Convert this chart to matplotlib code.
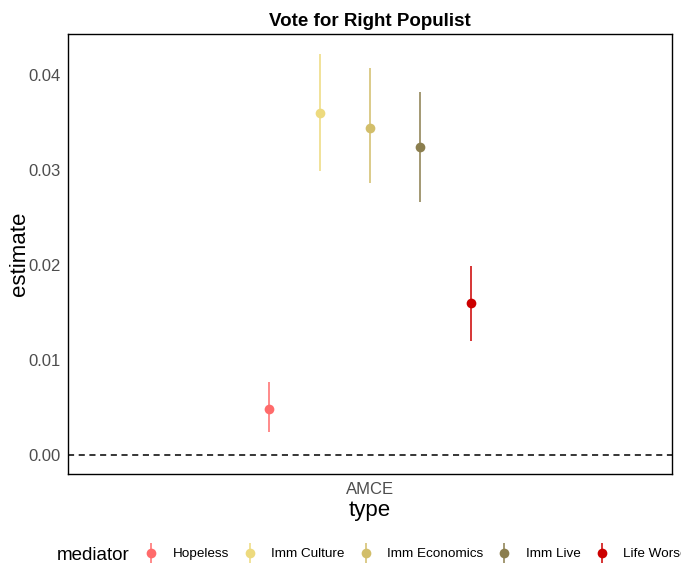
import matplotlib
matplotlib.use("Agg")
import matplotlib.pyplot as plt
from matplotlib.lines import Line2D
import numpy as np

plt.rcParams['font.family'] = ['Liberation Sans', 'DejaVu Sans']

# data
mediators = ["Hopeless", "Imm Culture", "Imm Economics", "Imm Live", "Life Worse"]
estimate = [0.0048, 0.0360, 0.0344, 0.0324, 0.0160]
ci_low = [0.0024, 0.0299, 0.0286, 0.0266, 0.0120]
ci_high = [0.0077, 0.0422, 0.0407, 0.0382, 0.0199]
colors = ["#FF6B6B", "#EDDA7E", "#D2BE6A", "#8B7E4E", "#CC0000"]
category = "AMCE"

fig = plt.figure(figsize=(6.81, 5.65), dpi=100)
ax = fig.add_axes([68 / 681, 1 - 474 / 565, 604 / 681, 440 / 565])

# dodge the five mediators around the single category (width 0.5)
n = len(mediators)
offsets = (np.arange(n) - (n - 1) / 2) * 0.1
for i in range(n):
    x = 1 + offsets[i]
    ax.plot([x, x], [ci_low[i], ci_high[i]], color=colors[i], lw=1.3, alpha=0.85,
            solid_capstyle='butt', zorder=2)
    ax.plot(x, estimate[i], 'o', color=colors[i], ms=7, mec='none', zorder=3)

ax.axhline(0, color='black', lw=1.1, ls=(0, (4, 3)), zorder=1)

ax.set_xlim(0.4, 1.6)
ax.set_ylim(-0.002, 0.0443)
ax.set_xticks([1])
ax.set_xticklabels([category])
ax.set_yticks([0, 0.01, 0.02, 0.03, 0.04])
ax.set_yticklabels(["0.00", "0.01", "0.02", "0.03", "0.04"])
ax.tick_params(length=0, labelsize=12, labelcolor='#4D4D4D')
ax.tick_params(axis='y', pad=5)
ax.tick_params(axis='x', pad=6)
for s in ax.spines.values():
    s.set_linewidth(1.0)
    s.set_color('black')

ax.set_xlabel("type", fontsize=16, labelpad=2)
ax.set_ylabel("estimate", fontsize=16, labelpad=-1)
ax.set_title("Vote for Right Populist", fontsize=13.5, fontweight='bold', pad=6)

# legend along the bottom
handles = []
for c in colors:
    handles.append((Line2D([], [], color=c, marker='|', ms=14, mew=1.3, ls='none', alpha=0.85),
                    Line2D([], [], color=c, marker='o', ms=7, mec='none', ls='none')))
fig.text(57 / 681, 1 - 555 / 565, "mediator", fontsize=13.5, va='center', ha='left')
fig.legend(handles, mediators, loc='center left', bbox_to_anchor=(143 / 681, 1 - 554 / 565),
           ncol=n, frameon=False, fontsize=9.7, handlelength=1.2, handletextpad=1.0,
           columnspacing=0.95, borderaxespad=0, borderpad=0)

fig.savefig("out.png", dpi=100)
